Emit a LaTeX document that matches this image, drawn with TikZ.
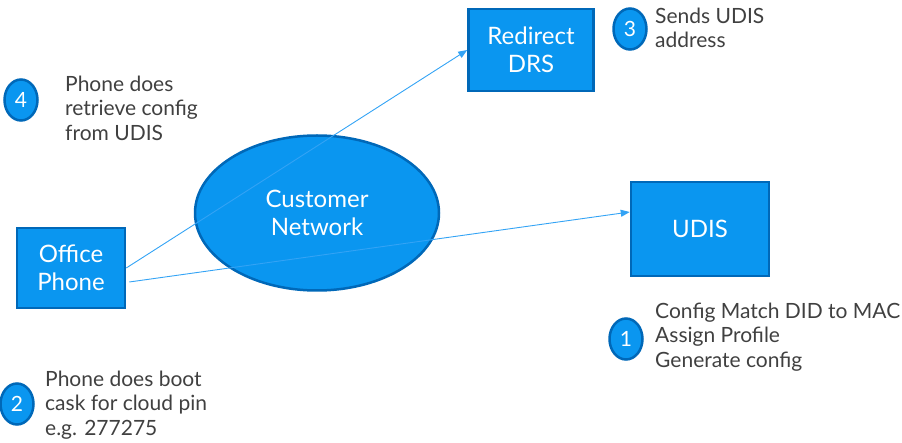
\documentclass[tikz,border=0pt]{standalone}
\usepackage{fontspec}
\setmainfont{Lato}
\usepackage{xcolor}
\usepackage{tikz}
\usetikzlibrary{positioning, arrows.meta, shapes.geometric}

\definecolor{boxfill}{HTML}{0A96F0}
\definecolor{boxline}{HTML}{0068B8}
\definecolor{linkblue}{HTML}{33A3F5}
\definecolor{txtgray}{HTML}{404040}

\begin{document}
\begin{tikzpicture}[x=1pt, y=-1pt,
    box/.style={draw=boxline, fill=boxfill, line width=2.5pt, text=white,
        align=center, font=\fontsize{24}{28}\selectfont, inner sep=0pt},
    stepnum/.style={ellipse, draw=boxline, fill=boxfill, line width=2.5pt, text=white,
        minimum width=33pt, minimum height=41pt, inner sep=0pt, font=\fontsize{21}{21}\selectfont},
    note/.style={anchor=west, align=left, text=txtgray, inner sep=0pt,
        font=\fontsize{21}{24.5}\selectfont},
    link/.style={linkblue, line width=0.9pt, -{Triangle[length=9pt, width=7pt]}}]
    \useasboundingbox (0,0) rectangle (902,443);
    % main boxes
    \node[box, minimum width=108pt, minimum height=80pt] (phone) at (71,268) {Office\\Phone};
    \node[box, ellipse, minimum width=244pt, minimum height=155pt] (net) at (317,213) {Customer\\Network};
    \node[box, minimum width=125pt, minimum height=82pt] (drs) at (531,50) {Redirect\\DRS};
    \node[box, minimum width=138pt, minimum height=94pt] (udis) at (700,229) {UDIS};
    % connectors
    \draw[link] (phone.east) -- (drs.west);
    \draw[link] ([xshift=3pt, yshift=-14pt]phone.east) -- ([yshift=17pt]udis.west);
    % numbered steps
    \node[stepnum] (s1) at (626,339) {1};
    \node[note] (t1) at (655,337) {Config Match DID to MAC\\Assign Profile\\Generate config};
    \node[stepnum] (s2) at (17,404) {2};
    \node[note] (t2) at (45,405) {Phone does boot\\cask for cloud pin\\e.g. 277275};
    \node[stepnum] (s3) at (630,29) {3};
    \node[note] (t3) at (655,28) {Sends UDIS\\address};
    \node[stepnum] (s4) at (21,100) {4};
    \node[note] (t4) at (65,108) {Phone does\\retrieve config\\from UDIS};
\end{tikzpicture}
\end{document}
